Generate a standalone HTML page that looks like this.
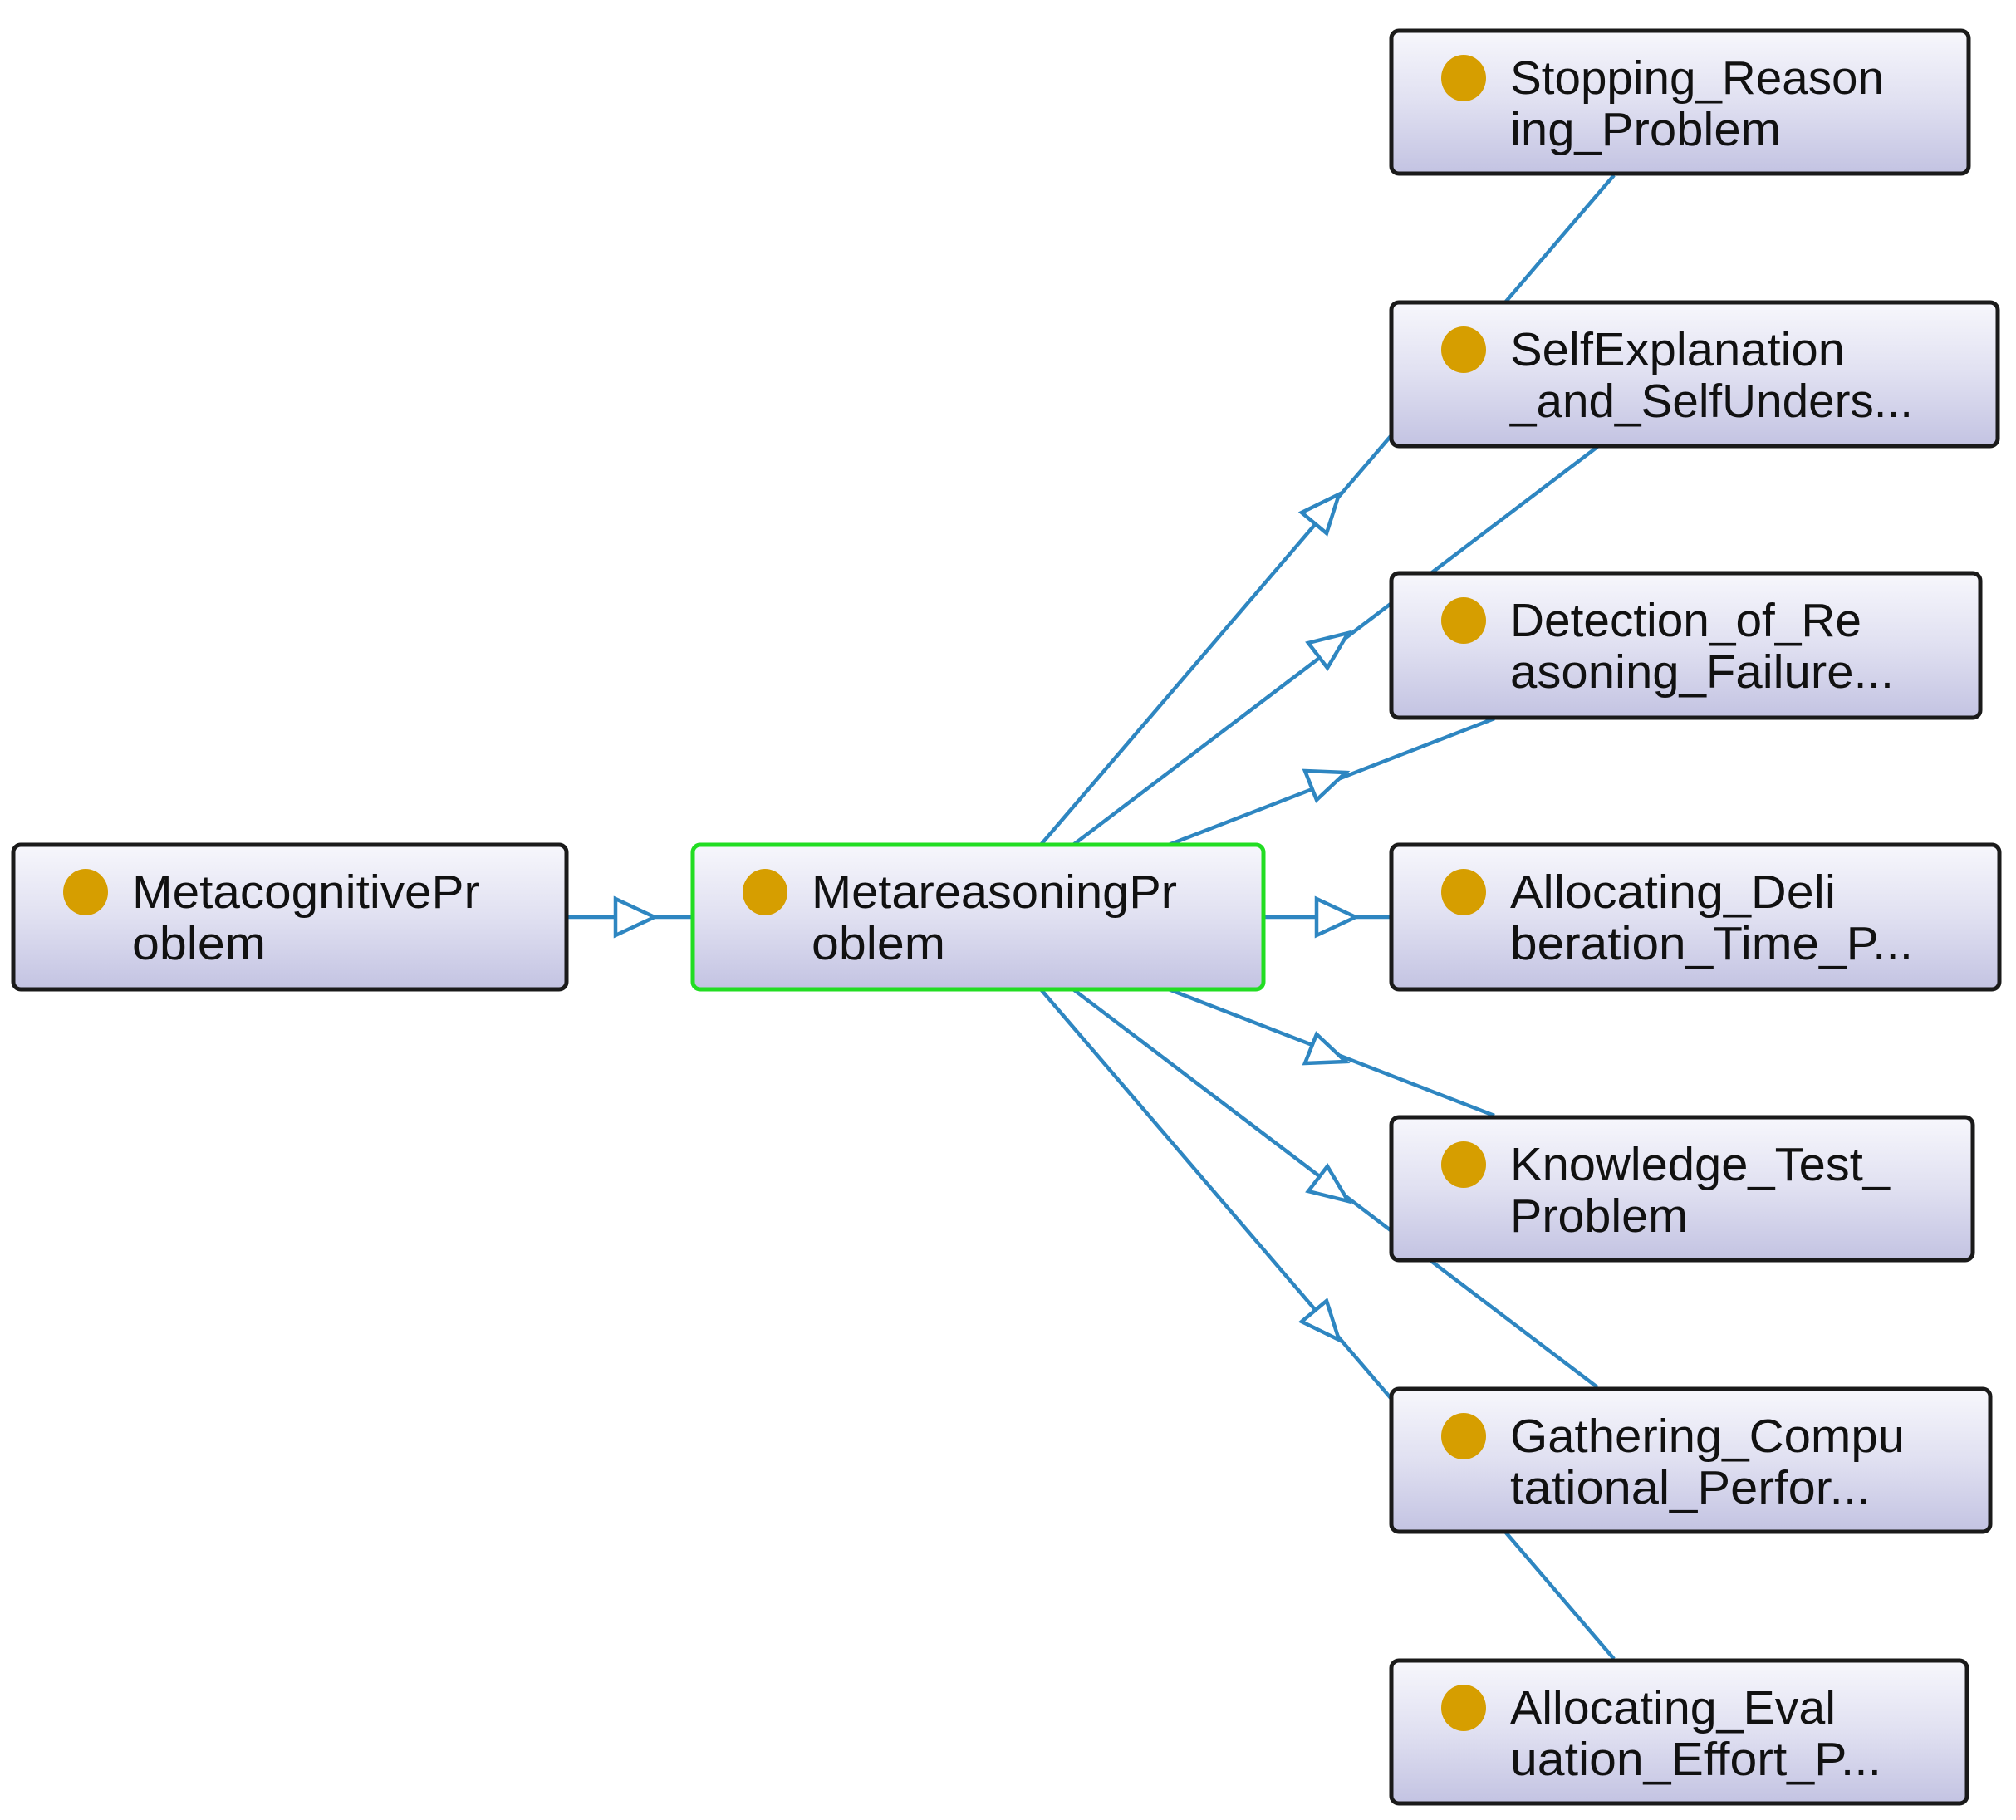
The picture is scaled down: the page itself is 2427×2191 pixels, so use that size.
<!DOCTYPE html>
<html><head><meta charset="utf-8"><style>html,body{margin:0;padding:0;background:#fff}svg{display:block}</style></head>
<body>
<svg width="2427" height="2191" viewBox="0 0 2427 2191" xmlns="http://www.w3.org/2000/svg">
<defs>
<linearGradient id="g" x1="0" y1="0" x2="0" y2="1">
<stop offset="0" stop-color="#f7f7fc"/><stop offset="0.5" stop-color="#e0e0f1"/><stop offset="1" stop-color="#c3c3e2"/>
</linearGradient>
</defs>
<g stroke="#2e86c1" stroke-width="4.5" fill="none">
<line x1="682" y1="1104" x2="834" y2="1104"/>
<line x1="1521" y1="1104" x2="1675" y2="1104"/>
<line x1="1253" y1="1017" x2="1943" y2="211"/>
<line x1="1292" y1="1017" x2="1923" y2="538"/>
<line x1="1407" y1="1017" x2="1799" y2="865"/>
<line x1="1253" y1="1191" x2="1943" y2="1997"/>
<line x1="1292" y1="1191" x2="1923" y2="1670"/>
<line x1="1407" y1="1191" x2="1799" y2="1343"/>
</g>
<g stroke="#2e86c1" stroke-width="4.5" fill="#fff" stroke-linejoin="miter">
<polygon points="788,1104 741,1082 741,1126"/>
<polygon points="1632,1104 1585,1082 1585,1126"/>
<polygon points="1612,595 1567,617 1597,642"/>
<polygon points="1623,762 1575,774 1598,804"/>
<polygon points="1620,930 1571,928 1585,963"/>
<polygon points="1612,1613 1567,1591 1597,1566"/>
<polygon points="1623,1446 1575,1434 1598,1404"/>
<polygon points="1620,1278 1571,1280 1585,1245"/>
</g>
<g font-family="Liberation Sans, sans-serif" font-size="57" fill="#111">
<g>
<rect x="16" y="1017" width="666" height="174" rx="9" fill="url(#g)" stroke="#1a1a1a" stroke-width="5"/>
<ellipse cx="103" cy="1074" rx="27" ry="28" fill="#d69e00"/>
<text x="159" y="1093" textLength="419" lengthAdjust="spacingAndGlyphs">MetacognitivePr</text>
<text x="159" y="1155" textLength="161" lengthAdjust="spacingAndGlyphs">oblem</text>
</g>
<g>
<rect x="834" y="1017" width="687" height="174" rx="9" fill="url(#g)" stroke="#22dd22" stroke-width="5"/>
<ellipse cx="921" cy="1074" rx="27" ry="28" fill="#d69e00"/>
<text x="977" y="1093" textLength="440" lengthAdjust="spacingAndGlyphs">MetareasoningPr</text>
<text x="977" y="1155" textLength="161" lengthAdjust="spacingAndGlyphs">oblem</text>
</g>
<g>
<rect x="1675" y="37" width="695" height="172" rx="9" fill="url(#g)" stroke="#1a1a1a" stroke-width="5"/>
<ellipse cx="1762" cy="94" rx="27" ry="28" fill="#d69e00"/>
<text x="1818" y="113" textLength="450" lengthAdjust="spacingAndGlyphs">Stopping_Reason</text>
<text x="1818" y="175" textLength="326" lengthAdjust="spacingAndGlyphs">ing_Problem</text>
</g>
<g>
<rect x="1675" y="364" width="730" height="173" rx="9" fill="url(#g)" stroke="#1a1a1a" stroke-width="5"/>
<ellipse cx="1762" cy="421" rx="27" ry="28" fill="#d69e00"/>
<text x="1818" y="440" textLength="403" lengthAdjust="spacingAndGlyphs">SelfExplanation</text>
<text x="1818" y="502" textLength="485" lengthAdjust="spacingAndGlyphs">_and_SelfUnders...</text>
</g>
<g>
<rect x="1675" y="690" width="709" height="174" rx="9" fill="url(#g)" stroke="#1a1a1a" stroke-width="5"/>
<ellipse cx="1762" cy="747" rx="27" ry="28" fill="#d69e00"/>
<text x="1818" y="766" textLength="423" lengthAdjust="spacingAndGlyphs">Detection_of_Re</text>
<text x="1818" y="828" textLength="462" lengthAdjust="spacingAndGlyphs">asoning_Failure...</text>
</g>
<g>
<rect x="1675" y="1017" width="732" height="174" rx="9" fill="url(#g)" stroke="#1a1a1a" stroke-width="5"/>
<ellipse cx="1762" cy="1074" rx="27" ry="28" fill="#d69e00"/>
<text x="1818" y="1093" textLength="392" lengthAdjust="spacingAndGlyphs">Allocating_Deli</text>
<text x="1818" y="1155" textLength="485" lengthAdjust="spacingAndGlyphs">beration_Time_P...</text>
</g>
<g>
<rect x="1675" y="1345" width="700" height="172" rx="9" fill="url(#g)" stroke="#1a1a1a" stroke-width="5"/>
<ellipse cx="1762" cy="1402" rx="27" ry="28" fill="#d69e00"/>
<text x="1818" y="1421" textLength="457" lengthAdjust="spacingAndGlyphs">Knowledge_Test_</text>
<text x="1818" y="1483" textLength="214" lengthAdjust="spacingAndGlyphs">Problem</text>
</g>
<g>
<rect x="1675" y="1672" width="721" height="172" rx="9" fill="url(#g)" stroke="#1a1a1a" stroke-width="5"/>
<ellipse cx="1762" cy="1729" rx="27" ry="28" fill="#d69e00"/>
<text x="1818" y="1748" textLength="475" lengthAdjust="spacingAndGlyphs">Gathering_Compu</text>
<text x="1818" y="1810" textLength="434" lengthAdjust="spacingAndGlyphs">tational_Perfor...</text>
</g>
<g>
<rect x="1675" y="1999" width="693" height="172" rx="9" fill="url(#g)" stroke="#1a1a1a" stroke-width="5"/>
<ellipse cx="1762" cy="2056" rx="27" ry="28" fill="#d69e00"/>
<text x="1818" y="2075" textLength="392" lengthAdjust="spacingAndGlyphs">Allocating_Eval</text>
<text x="1818" y="2137" textLength="447" lengthAdjust="spacingAndGlyphs">uation_Effort_P...</text>
</g>
</g>
</svg>
</body></html>
